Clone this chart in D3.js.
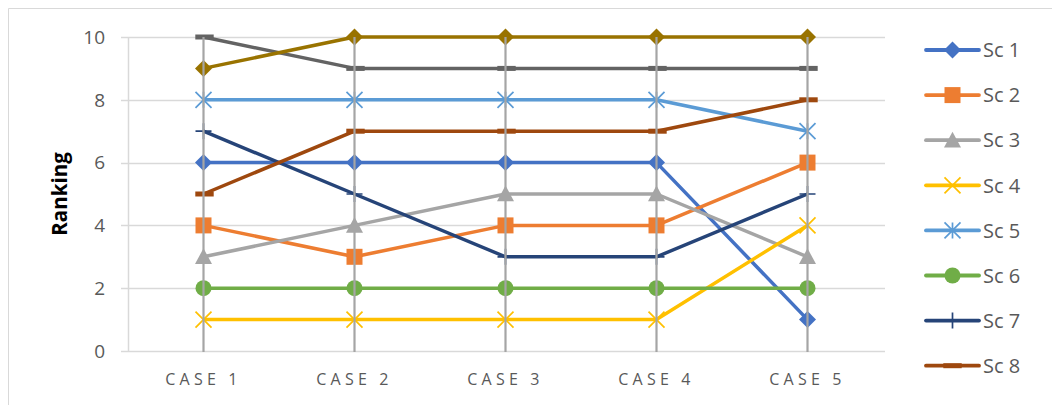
<!DOCTYPE html>
<html>
<head>
<meta charset="utf-8">
<script src="https://cdn.jsdelivr.net/npm/d3@7"></script>
<style>
  body { margin: 0; background: #fff; }
  text { font-family: "Open Sans", "Liberation Sans", sans-serif; }
</style>
</head>
<body>
<div class="chart"></div>
<script>
// ---- data ----
var cases = ["CASE 1", "CASE 2", "CASE 3", "CASE 4", "CASE 5"];
var seriesNames = ["Sc 1", "Sc 2", "Sc 3", "Sc 4", "Sc 5", "Sc 6", "Sc 7", "Sc 8", "Sc 9", "Sc 10"];
var sc1 = [6, 6, 6, 6, 1];
var sc2 = [4, 3, 4, 4, 6];
var sc3 = [3, 4, 5, 5, 3];
var sc4 = [1, 1, 1, 1, 4];
var sc5 = [8, 8, 8, 8, 7];
var sc6 = [2, 2, 2, 2, 2];
var sc7 = [7, 5, 3, 3, 5];
var sc8 = [5, 7, 7, 7, 8];
var sc9 = [10, 9, 9, 9, 9];
var sc10 = [9, 10, 10, 10, 10];
var yTicks = [0, 2, 4, 6, 8, 10];
var legendShown = 8; // legend is clipped after Sc 8

var seriesValues = [sc1, sc2, sc3, sc4, sc5, sc6, sc7, sc8, sc9, sc10];
var colors = ["#4472C4", "#ED7D31", "#A5A5A5", "#FFC000", "#5B9BD5", "#70AD47", "#264478", "#9E480E", "#636363", "#997300"];
var markers = ["diamond", "square", "triangle", "x", "star", "circle", "plus", "dash", "dash", "diamond"];

var width = 1052, height = 405;
var margin = { top: 37, left: 128, right: 169, bottom: 54 };
var plotW = width - margin.left - margin.right,
    plotH = height - margin.top - margin.bottom;

var svg = d3.select(".chart").append("svg")
    .attr("width", width)
    .attr("height", height);

// outer chart border (only top and left visible)
svg.append("path")
    .attr("d", "M8.5," + height + "V8.5H" + width)
    .attr("fill", "none")
    .attr("stroke", "#d9d9d9")
    .attr("stroke-width", 1);

var x = d3.scalePoint()
    .domain(cases)
    .range([0, plotW])
    .padding(0.5);

var y = d3.scaleLinear()
    .domain([0, 10])
    .range([plotH, 0]);

var g = svg.append("g")
    .attr("transform", "translate(" + margin.left + "," + margin.top + ")");

// horizontal gridlines with little tick stubs on the left
g.append("g")
    .selectAll("line")
    .data(yTicks)
    .enter().append("line")
    .attr("x1", -7)
    .attr("x2", plotW + 2)
    .attr("y1", d => Math.round(y(d)) + 0.5)
    .attr("y2", d => Math.round(y(d)) + 0.5)
    .attr("stroke", "#d9d9d9")
    .attr("stroke-width", 1.5);

// vertical axis line
g.append("line")
    .attr("x1", 0.5).attr("x2", 0.5)
    .attr("y1", 0).attr("y2", plotH + 1)
    .attr("stroke", "#d9d9d9")
    .attr("stroke-width", 1.5);

// y tick labels
g.append("g")
    .selectAll("text")
    .data(yTicks)
    .enter().append("text")
    .attr("x", -23)
    .attr("y", d => y(d))
    .attr("dy", "0.36em")
    .attr("text-anchor", "end")
    .attr("fill", "#595959")
    .style("font-size", "19px")
    .text(d => d);

// x labels
g.append("g")
    .selectAll("text")
    .data(cases)
    .enter().append("text")
    .attr("x", d => x(d))
    .attr("y", plotH + 34)
    .attr("text-anchor", "middle")
    .attr("fill", "#595959")
    .style("font-size", "16px")
    .style("letter-spacing", "4.2px")
    .text(d => d);

// y title
g.append("text")
    .attr("transform", "translate(-61," + (plotH / 2) + ") rotate(-90)")
    .attr("text-anchor", "middle")
    .attr("fill", "#000")
    .style("font-size", "20.5px")
    .style("font-weight", "bold")
    .text("Ranking");

// marker path builder, centred on 0,0
function markerPath(type, r) {
    switch (type) {
        case "diamond": return "M0," + (-r) + "L" + r + ",0L0," + r + "L" + (-r) + ",0Z";
        case "square": return "M" + (-r) + "," + (-r) + "H" + r + "V" + r + "H" + (-r) + "Z";
        case "triangle": return "M0," + (-r) + "L" + r + "," + (r * 0.85) + "H" + (-r) + "Z";
        case "circle": return d3.symbol(d3.symbolCircle, Math.PI * r * r)();
        case "x": return "M" + (-r) + "," + (-r) + "L" + r + "," + r + "M" + r + "," + (-r) + "L" + (-r) + "," + r;
        case "star": return "M" + (-r) + "," + (-r) + "L" + r + "," + r + "M" + r + "," + (-r) + "L" + (-r) + "," + r + "M0," + (-r) + "V" + r;
        case "plus": return "M" + (-r) + ",0H" + r + "M0," + (-r) + "V" + r;
        case "dash": return "M" + (-r * 1.15) + ",-2.5H" + (r * 1.15) + "V2.5H" + (-r * 1.15) + "Z";
    }
}
var strokeMarker = { x: true, star: true, plus: true };
var markerSize = { diamond: 8.5, square: 8, triangle: 8.5, circle: 8, x: 8, star: 8, plus: 8, dash: 8 };

var line = d3.line()
    .x((d, i) => x(cases[i]))
    .y(d => y(d));

seriesValues.forEach(function (vals, s) {
    var sg = g.append("g").attr("class", "series");
    sg.append("path")
        .datum(vals)
        .attr("d", line)
        .attr("fill", "none")
        .attr("stroke", colors[s])
        .attr("stroke-width", 3.5)
        .attr("stroke-linejoin", "round");
    sg.selectAll("path.mk")
        .data(vals)
        .enter().append("path")
        .attr("class", "mk")
        .attr("transform", (d, i) => "translate(" + (x(cases[i]) + (markers[s] == "dash" ? 1 : 0)) + "," + y(d) + ")")
        .attr("d", markerPath(markers[s], markerSize[markers[s]]))
        .attr("fill", strokeMarker[markers[s]] ? "none" : colors[s])
        .attr("stroke", colors[s])
        .attr("stroke-width", strokeMarker[markers[s]] ? 1.7 : 0);
});

// drop lines from highest value of each case down to axis
var maxByCase = cases.map((c, i) => d3.max(seriesValues, v => v[i]));
g.append("g")
    .selectAll("line")
    .data(cases)
    .enter().append("line")
    .attr("x1", d => x(d)).attr("x2", d => x(d))
    .attr("y1", (d, i) => y(maxByCase[i]))
    .attr("y2", plotH + 1)
    .attr("stroke", "#A5A5A5")
    .attr("stroke-width", 2.2);

// legend
var legend = svg.append("g")
    .attr("transform", "translate(926,50)");
var item = legend.selectAll("g")
    .data(seriesNames.slice(0, legendShown))
    .enter().append("g")
    .attr("transform", (d, i) => "translate(0," + (i * 45.1) + ")");
item.append("line")
    .attr("x1", 0).attr("x2", 53)
    .attr("stroke", (d, i) => colors[i])
    .attr("stroke-width", 3.8)
    .attr("stroke-linecap", "round");
item.append("path")
    .attr("transform", (d, i) => "translate(26.5,0)")
    .attr("d", (d, i) => markerPath(markers[i], markerSize[markers[i]]))
    .attr("fill", (d, i) => strokeMarker[markers[i]] ? "none" : colors[i])
    .attr("stroke", (d, i) => colors[i])
    .attr("stroke-width", (d, i) => strokeMarker[markers[i]] ? 1.7 : 0);
item.append("text")
    .attr("x", 57)
    .attr("dy", "0.36em")
    .attr("fill", "#595959")
    .style("font-size", "20px")
    .text(d => d);
</script>
</body>
</html>
